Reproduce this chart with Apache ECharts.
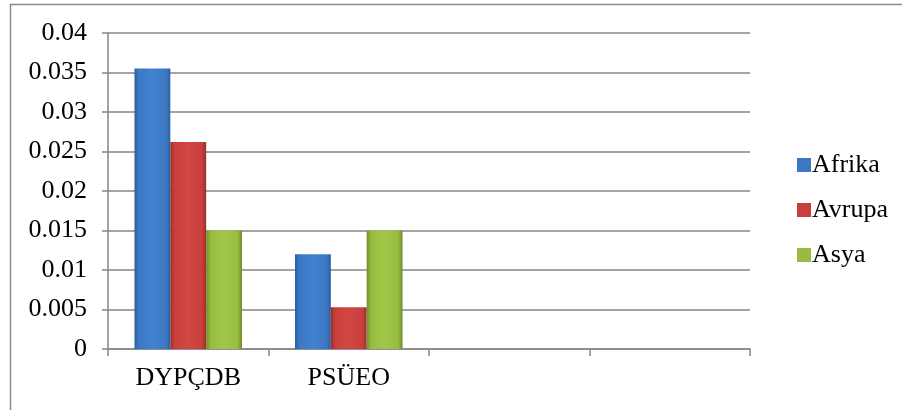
<!DOCTYPE html>
<html>
<head>
<meta charset="utf-8">
<script src="https://cdn.jsdelivr.net/npm/echarts@6/dist/echarts.min.js"></script>
<style>
html,body{margin:0;padding:0;background:#fff;}
#c{width:902px;height:410px;}
</style>
</head>
<body>
<div id="c"></div>
<script>
var categories = ['DYPÇDB', 'PSÜEO', '', ''];
var afrika = [0.0355, 0.012, null, null];
var avrupa = [0.0262, 0.0053, null, null];
var asya = [0.015, 0.015, null, null];
var seriesNames = ['Afrika', 'Avrupa', 'Asya'];

var FONT = "'Liberation Serif', 'Times New Roman', serif";
function grad(dark, base, light) {
  return new echarts.graphic.LinearGradient(0, 0, 1, 0, [
    {offset: 0, color: dark},
    {offset: 0.12, color: base},
    {offset: 0.5, color: light},
    {offset: 0.88, color: base},
    {offset: 1, color: dark}
  ]);
}
var colors = [
  grad('#2c5f9e', '#3b78c4', '#4282cf'),
  grad('#9a2f2c', '#c83f3b', '#d24744'),
  grad('#6e8c2c', '#97bc3f', '#a2c64a')
];
var legendColors = ['#3b78c4', '#c83f3b', '#97bc3f'];
var data = [afrika, avrupa, asya];

var chart = echarts.init(document.getElementById('c'), null, {renderer: 'canvas'});
chart.setOption({
  animation: false,
  backgroundColor: '#fff',
  textStyle: {fontFamily: FONT},
  graphic: [{
    type: 'rect',
    shape: {x: 10.5, y: 4.5, width: 1000, height: 1000},
    style: {fill: 'none', stroke: '#8c8c8c', lineWidth: 1.5},
    silent: true
  }],
  grid: {left: 108, right: 152, top: 33, bottom: 61},
  legend: {
    orient: 'vertical',
    left: 792,
    top: 147,
    itemWidth: 14,
    itemHeight: 14,
    itemGap: 19,
    icon: 'rect',
    textStyle: {fontFamily: FONT, fontSize: 26, color: '#000', padding: [0, 0, 0, -4]},
    data: seriesNames.map(function (n, i) { return {name: n, itemStyle: {color: legendColors[i]}}; })
  },
  xAxis: {
    type: 'category',
    data: categories,
    axisLine: {lineStyle: {color: '#868686', width: 1.5}},
    axisTick: {show: true, length: 7, lineStyle: {color: '#868686', width: 1.5}},
    axisLabel: {fontFamily: FONT, fontSize: 26, color: '#000', margin: 16, interval: 0}
  },
  yAxis: {
    type: 'value',
    min: 0,
    max: 0.04,
    interval: 0.005,
    axisLine: {show: true, lineStyle: {color: '#868686', width: 1.5}},
    axisTick: {show: true, length: 6, lineStyle: {color: '#868686', width: 1.5}},
    splitLine: {lineStyle: {color: '#868686', width: 1.5}},
    axisLabel: {fontFamily: FONT, fontSize: 26, color: '#000', margin: 21}
  },
  series: seriesNames.map(function (n, i) {
    return {
      name: n,
      type: 'bar',
      data: data[i],
      barGap: '0%',
      barCategoryGap: '33%',
      itemStyle: {color: colors[i]}
    };
  })
});
</script>
</body>
</html>
